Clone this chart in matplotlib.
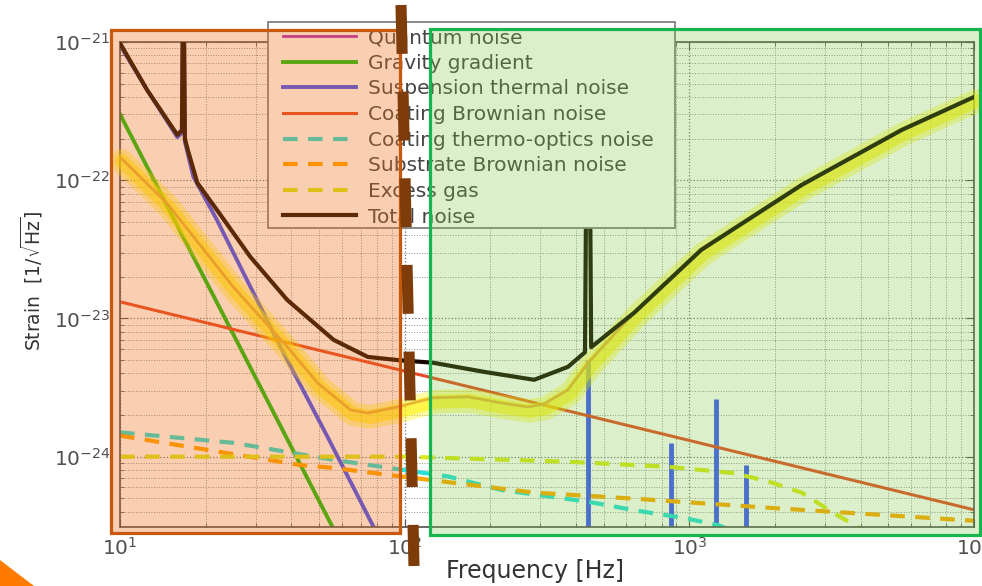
import matplotlib
matplotlib.use('Agg')
import matplotlib.pyplot as plt
import matplotlib.transforms as mtransforms
from matplotlib.patches import Rectangle, Polygon
from matplotlib.lines import Line2D

# values: frequency [Hz], strain [1/sqrt(Hz)]
quantum_f = [10, 14.6, 25, 38.7, 49.4, 64.6, 74.2, 94.5, 126, 167, 218, 271, 308, 375, 441, 640, 1100, 2480, 5570, 10000]
quantum_h = [1.47e-22, 6.85e-23, 1.69e-23, 6.24e-24, 3.42e-24, 2.18e-24, 2.07e-24, 2.29e-24, 2.67e-24, 2.71e-24,
             2.45e-24, 2.29e-24, 2.4e-24, 3.05e-24, 4.78e-24, 1.1e-23, 3.13e-23, 9.24e-23, 2.31e-22, 4.0e-22]

grav_f = [10, 70]
grav_h = [3.0e-22, 1.25e-25]

susp_f = [10, 12.45, 15.9, 16.5, 16.7, 16.9, 18.1, 21.9, 36.6, 53.6, 77.8, 90]
susp_h = [9.5e-22, 4.5e-22, 2.05e-22, 2.2e-22, 4e-21, 1.9e-22, 1.06e-22, 5.16e-23, 6.24e-24, 1.39e-24, 3.1e-25, 1.7e-25]

# violin modes (suspension thermal lines)
violin_f = [441, 865, 1245, 1585]
violin_h = [5e-24, 1.26e-24, 2.6e-24, 8.7e-25]

coat_f = [10, 10000]
coat_h = [1.32e-23, 4.13e-25]

thermo_f = [10, 25, 56, 142, 218, 441, 640, 959, 1260, 2000]
thermo_h = [1.5e-24, 1.26e-24, 9.5e-25, 7.2e-25, 5.75e-25, 4.72e-25, 4.1e-25, 3.6e-25, 3.2e-25, 2.2e-25]

subst_f = [10, 43, 56, 97, 285, 640, 1900, 10000]
subst_h = [1.42e-24, 8.7e-25, 8.3e-25, 7.2e-25, 5.5e-25, 4.97e-25, 4.27e-25, 3.44e-25]

gas_f = [10, 100, 375, 843, 1440, 1900, 2480, 3160, 4000, 10000]
gas_h = [1.0e-24, 1.0e-24, 9.2e-25, 8.45e-25, 7.6e-25, 6.6e-25, 5.5e-25, 4.0e-25, 3.0e-25, 1.5e-25]

total_f = [10, 12.45, 15.9, 16.5, 16.7, 16.9, 17.3, 18.7, 21.9, 28.7, 38.7, 56.3, 74.2, 94.5, 126, 190, 285,
           375, 430, 441, 452, 640, 1100, 2480, 5570, 10000]
total_h = [9.8e-22, 4.5e-22, 2.13e-22, 2.3e-22, 5e-21, 2.0e-22, 1.66e-22, 9.55e-23, 6.1e-23, 2.79e-23, 1.36e-23,
           7.0e-24, 5.27e-24, 5.0e-24, 4.78e-24, 4.11e-24, 3.6e-24, 4.47e-24, 5.7e-24, 1e-20, 6.2e-24, 1.1e-23,
           3.13e-23, 9.24e-23, 2.31e-22, 4.0e-22]

labels = ['Quantum noise', 'Gravity gradient', 'Suspension thermal noise', 'Coating Brownian noise',
          'Coating thermo-optics noise', 'Substrate Brownian noise', 'Excess gas', 'Total noise']

W, H = 982, 586
fig = plt.figure(figsize=(W / 100, H / 100), dpi=100)
ax = fig.add_axes([120 / W, 1 - 527 / H, 854 / W, 485 / H])
ax.set_xscale('log')
ax.set_yscale('log')
ax.set_xlim(10, 1e4)
ax.set_ylim(3.1e-25, 1e-21)

ax.grid(True, which='major', ls=':', color='#707070', lw=0.9)
ax.grid(True, which='minor', ls=':', color='#909090', lw=0.7)

l_grav, = ax.plot(grav_f, grav_h, color='#12c012', lw=2.8, zorder=2)
l_susp, = ax.plot(susp_f, susp_h, color='#3c50ff', lw=2.8, zorder=2)
ax.vlines(violin_f, ax.get_ylim()[0], violin_h, colors='#3c50ff', lw=3.5, zorder=2)
l_coat, = ax.plot(coat_f, coat_h, color='#e84828', lw=2.2, zorder=2)
l_thermo, = ax.plot(thermo_f, thermo_h, color='#25e0d8', lw=3, dashes=(3.5, 2.5), zorder=2)
l_subst, = ax.plot(subst_f, subst_h, color='#ffa500', lw=3, dashes=(3.5, 2.5), zorder=2)
l_gas, = ax.plot(gas_f, gas_h, color='#d8e81c', lw=3, dashes=(3.5, 2.5), zorder=2)
l_quant, = ax.plot(quantum_f, quantum_h, color='#b428be', lw=2, zorder=3)

# yellow highlighter over the quantum noise curve
glow_tr = mtransforms.offset_copy(ax.transData, fig=fig, x=2, y=-4, units='dots')
ax.plot(quantum_f, quantum_h, color='#fff200', alpha=0.35, lw=17, solid_capstyle='round',
        solid_joinstyle='round', clip_on=False, transform=glow_tr, zorder=3.1)
ax.plot(quantum_f, quantum_h, color='#fff200', alpha=0.55, lw=10, solid_capstyle='round',
        solid_joinstyle='round', clip_on=False, transform=glow_tr, zorder=3.2)

l_total, = ax.plot(total_f, total_h, color='#140800', lw=3, zorder=4)

for s in ax.spines.values():
    s.set_color('#505050')
    s.set_linewidth(1.2)
ax.tick_params(which='both', direction='in', top=True, right=True, colors='#505050',
               labelsize=14.5, labelcolor='#505050')
ax.tick_params(which='major', length=6, pad=7)
ax.tick_params(which='minor', length=3)

ax.set_xlabel('Frequency [Hz]', fontsize=17, color='#333333')
ax.xaxis.set_label_coords(0.486, -0.066)
ax.set_ylabel('Strain  [1/$\\sqrt{\\mathrm{Hz}}$]', fontsize=13.5, color='#333333')
ax.yaxis.set_label_coords(-0.088, 0.507)

# legend box (MATLAB style, opaque) and the entries inside it
ax.add_artist(Rectangle((268 / W, 1 - 228 / H), 407 / W, 206 / H, transform=fig.transFigure,
                        facecolor='white', edgecolor='#808080', lw=1.3, clip_on=False, zorder=4.5))
leg = ax.legend([l_quant, l_grav, l_susp, l_coat, l_thermo, l_subst, l_gas, l_total], labels,
                loc='upper left', bbox_to_anchor=(283 / W, 1 - 28 / H), bbox_transform=fig.transFigure,
                borderaxespad=0, borderpad=0, frameon=False, fontsize=14.5, labelspacing=0.33,
                handlelength=3.6, handletextpad=0.6, labelcolor='#454545')
leg.set_zorder(5)

# translucent highlight boxes laid over the chart
fig.add_artist(Rectangle((111 / W, 1 - 533 / H), 289 / W, 503 / H, transform=fig.transFigure,
                         facecolor=(0.94, 0.43, 0.08, 0.33), edgecolor='#c8580a', lw=2.3, zorder=5))
fig.add_artist(Rectangle((430 / W, 1 - 535 / H), 550 / W, 506 / H, transform=fig.transFigure,
                         facecolor=(0.47, 0.78, 0.24, 0.27), edgecolor='#18b450', lw=2.3, zorder=5))
fig.add_artist(Line2D([401 / W, 414 / W], [1 - 5 / H, 1 - 566 / H], transform=fig.transFigure,
                      color='#7d3c0a', lw=8, dashes=(4.4, 3.4), solid_capstyle='butt', zorder=6))
fig.add_artist(Polygon([(0, 1 - 560 / H), (34 / W, 0), (0, 0)], closed=True, transform=fig.transFigure,
                       facecolor='#ff7b00', edgecolor='none', zorder=6))

fig.savefig('out.png', dpi=100)
